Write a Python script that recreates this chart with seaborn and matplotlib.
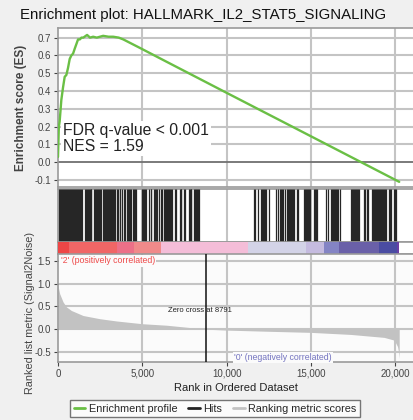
import numpy as np
import pandas as pd
import matplotlib
matplotlib.use("Agg")
import matplotlib.pyplot as plt
from matplotlib.lines import Line2D
from matplotlib.ticker import FuncFormatter
import seaborn as sns

# ---------------- data ----------------
title = "Enrichment plot: HALLMARK_IL2_STAT5_SIGNALING"
stats_text = "FDR q-value < 0.001\nNES = 1.59"
zero_cross = 8791

es_rank = [0, 50, 99, 198, 298, 397, 495, 595, 694, 793, 893, 1000, 1190, 1300, 1389,
           1500, 1726, 1900, 2083, 2300, 2678, 3000, 3274, 3600, 3869, 4861, 6448,
           10020, 14385, 20238]
es_vals = [0.03, 0.20, 0.23, 0.35, 0.42, 0.48, 0.49, 0.53, 0.58, 0.60, 0.61, 0.64, 0.69,
           0.69, 0.70, 0.70, 0.715, 0.70, 0.705, 0.70, 0.71, 0.705, 0.705, 0.70, 0.69,
           0.642, 0.564, 0.389, 0.176, -0.11]

hits = [60, 120, 180, 240, 300, 360, 420, 480, 540, 600, 660, 720, 780, 840, 900, 960,
        1020, 1080, 1140, 1200, 1260, 1320, 1380, 1440,
        1580, 1640, 1700, 1760, 1820, 1880, 1940, 1980,
        2160, 2220, 2280, 2340, 2400, 2460, 2520, 2580, 2640, 2700, 2760, 2820, 2880,
        2940, 3000, 3060, 3120,
        3200, 3260, 3330, 3400, 3470, 3540, 3650, 3700, 3800, 3920, 3990,
        4100, 4160, 4220, 4290, 4350, 4450, 4510, 4580, 4640,
        4990, 5050, 5110, 5170, 5230, 5420, 5490, 5540, 5680, 5740, 5800, 5880,
        6010, 6080, 6160, 6290, 6350, 6410, 6470, 6530, 6590, 6650, 6710, 6770,
        6960, 7010, 7210, 7270, 7320, 7450, 7520, 7750, 7810, 7870, 7910,
        8090, 8150, 8210, 8270, 8330, 8390,
        11600, 11680, 11850, 12040, 12100, 12160, 12220, 12280, 12320, 12500,
        12950, 13020, 13190, 13250, 13310, 13370, 13440,
        13580, 13640, 13700, 13760, 13820, 13880, 13940, 14000, 14170, 14230,
        14610, 14670, 14730, 14790, 14850, 14910, 14960, 15200, 15260, 15320, 15380,
        15910, 15990, 16210, 16270, 16330, 16390, 16450, 16510, 16570, 16630, 16700,
        17400, 17460, 17520, 17580, 17640, 17700, 17760, 17820, 17880,
        18170, 18230, 18330, 18390,
        18620, 18680, 18740, 18800, 18860, 18920, 18980, 19040, 19100, 19160, 19220,
        19280, 19340, 19400, 19460, 19650, 19710, 19770, 19900, 19960, 20020]

band_edges = [0, 670, 3520, 4510, 6090, 11290, 14690, 15780, 16670, 19060, 20100, 20238]
band_colors = ["#ee4646", "#f06666", "#ec7088", "#f08a8a", "#f4bdd8", "#d3d3e7",
               "#c5bbdf", "#8484c4", "#6a60a8", "#4a4ca2", "#6a3ea6"]

m_rank = [0, 30, 99, 298, 496, 794, 1488, 2480, 3472, 5000, 6448, 8791, 10000, 12400,
          15000, 17360, 19344, 19940, 20137, 20200, 20238]
m_vals = [1.0, 0.9, 0.78, 0.6, 0.49, 0.41, 0.30, 0.23, 0.18, 0.12, 0.087, 0.0, -0.02,
          -0.045, -0.07, -0.115, -0.18, -0.24, -0.38, -0.5, -0.64]

x_ticks = [0, 5000, 10000, 15000, 20000]
es_ticks = [-0.1, 0.0, 0.1, 0.2, 0.3, 0.4, 0.5, 0.6, 0.7]
m_ticks = [-0.5, 0.0, 0.5, 1.0, 1.5]

# ---------------- style ----------------
sns.set_theme(style="white")
plt.rcParams["font.family"] = ["Liberation Sans", "DejaVu Sans"]

W, H = 414, 420
fig = plt.figure(figsize=(W / 100, H / 100), dpi=100, facecolor="#f0f0f0")


def box(left, top, right, bottom):
    return [left / W, 1 - bottom / H, (right - left) / W, (bottom - top) / H]


XMAX = 21115
grid_c = "#c4c4c4"
spine_c = "#9a9a9a"
green = "#6abf45"

ax_es = fig.add_axes(box(58, 28, 414, 187))
ax_hit = fig.add_axes(box(58, 189, 414, 242.5))
ax_bar = fig.add_axes(box(58, 242.5, 414, 254))
ax_m = fig.add_axes(box(58, 254, 414, 362))

for ax in (ax_es, ax_hit, ax_bar, ax_m):
    ax.set_xlim(0, XMAX)
    ax.set_facecolor("white")
    for s in ax.spines.values():
        s.set_color(spine_c)
        s.set_linewidth(1.2)
    for xt in x_ticks[1:]:
        ax.axvline(xt, color=grid_c, lw=1.5, zorder=0)

# ----- ES panel -----
ax_es.set_ylim(-0.139, 0.754)
for yt in es_ticks:
    if yt != 0.0:
        ax_es.axhline(yt, color=grid_c, lw=1.5, zorder=0)
ax_es.axhline(0.0, color="#707070", lw=1.3, zorder=1)
df_es = pd.DataFrame({"rank": es_rank, "es": es_vals})
sns.lineplot(data=df_es, x="rank", y="es", ax=ax_es, color=green, lw=1.7, zorder=3)
ax_es.set_yticks(es_ticks)
ax_es.set_yticklabels([f"{v:.1f}" for v in es_ticks])
ax_es.set_xticks([])
ax_es.set_xlabel("")
ax_es.set_ylabel("Enrichment score (ES)", fontsize=8.5, fontweight="bold", color="#444444",
                 labelpad=5)
ax_es.tick_params(axis="y", labelsize=7, colors="#444444", length=3, width=0.8,
                  pad=2, left=True)
ax_es.text(300, 0.135, stats_text, fontsize=11.3, color="#222222", va="center",
           ha="left", linespacing=1.1, zorder=2,
           bbox=dict(facecolor="white", edgecolor="none", pad=1.5))
fig.text(20 / W, 1 - 15 / H, title, fontsize=10.8, ha="left", va="center",
         color="#111111")

# ----- hits panel -----
ax_hit.vlines(hits, 0, 1, color="#262626", lw=0.9, zorder=3)
ax_hit.set_ylim(0, 1)
ax_hit.set_xticks([])
ax_hit.set_yticks([])

# ----- color band -----
for i, c in enumerate(band_colors):
    ax_bar.barh(0.5, band_edges[i + 1] - band_edges[i], left=band_edges[i], height=1,
                color=c, edgecolor="none", zorder=3)
ax_bar.set_ylim(0, 1)
ax_bar.set_xticks([])
ax_bar.set_yticks([])

# ----- ranked metric panel -----
ax_m.set_facecolor("#fbfbfb")
ax_m.set_ylim(-0.72, 1.65)
for yt in m_ticks:
    ax_m.axhline(yt, color=grid_c, lw=1.5, zorder=0)
ax_m.fill_between(m_rank, 0, m_vals, color="#c2c2c2", lw=0, zorder=2)
ax_m.axvline(zero_cross, color="#111111", lw=1.1, zorder=3)
ax_m.text(zero_cross - 400, 0.42, f"Zero cross at {zero_cross}", fontsize=5.5,
          ha="center", va="center", color="#222222", zorder=4)
ax_m.text(150, 1.5, "'2' (positively correlated)", fontsize=6.3, color="#ee4a4a",
          ha="left", va="center", zorder=4,
          bbox=dict(facecolor="#fbfbfb", edgecolor="none", pad=1))
ax_m.text(13340, -0.62, "'0' (negatively correlated)", fontsize=6.3, color="#7474c0",
          ha="center", va="center", zorder=4,
          bbox=dict(facecolor="#fbfbfb", edgecolor="none", pad=1))
ax_m.set_yticks(m_ticks)
ax_m.set_yticklabels([f"{v:.1f}" for v in m_ticks])
ax_m.set_xticks(x_ticks)
ax_m.xaxis.set_major_formatter(FuncFormatter(lambda v, p: f"{int(v):,}"))
ax_m.tick_params(axis="both", labelsize=7, colors="#444444", length=3, width=0.8,
                 pad=2, left=True, bottom=True)
ax_m.set_xlabel("Rank in Ordered Dataset", fontsize=8, color="#222222", labelpad=3)
ax_m.set_ylabel("Ranked list metric (Signal2Noise)", fontsize=7.8, color="#444444",
                labelpad=4)
ax_m.yaxis.set_label_coords(-0.065, 0.45)

# ----- legend -----
handles = [Line2D([0], [0], color=green, lw=2),
           Line2D([0], [0], color="#222222", lw=2),
           Line2D([0], [0], color="#c2c2c2", lw=2)]
labels = ["Enrichment profile", "Hits", "Ranking metric scores"]
leg = fig.legend(handles, labels, loc="center", bbox_to_anchor=(215 / W, 1 - 408.5 / H),
                 ncol=3, fontsize=7.8, frameon=True, fancybox=False, handlelength=1.1,
                 handletextpad=0.3, columnspacing=1.0, borderpad=0.35)
leg.get_frame().set_edgecolor("#555555")
leg.get_frame().set_linewidth(1.0)
leg.get_frame().set_facecolor("white")

fig.savefig("out.png", dpi=100, facecolor=fig.get_facecolor())
